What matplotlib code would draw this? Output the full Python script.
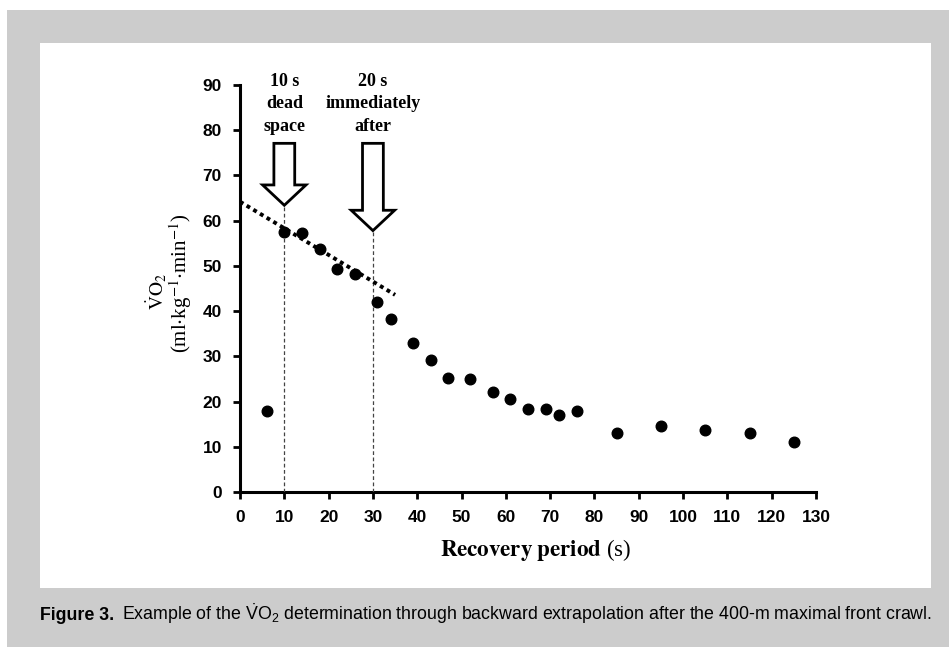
import matplotlib
matplotlib.use("Agg")
import matplotlib.pyplot as plt
from matplotlib.patches import Rectangle, FancyArrow
from matplotlib import font_manager

# ---------------- data ----------------
recovery_time = [6, 10, 14, 18, 22, 26, 31, 34, 39, 43, 47, 52, 57, 61, 65, 69, 72, 76,
                 85, 95, 105, 115, 125]
vo2 = [17.9, 57.6, 57.2, 53.8, 49.3, 48.3, 42.1, 38.3, 33.0, 29.1, 25.3, 24.9, 22.1,
       20.6, 18.3, 18.3, 17.1, 17.9, 13.1, 14.6, 13.8, 13.1, 11.1]
fit_x = [0, 35]
fit_y = [64.2, 43.6]
marker_times = [10, 30]
marker_tips = [63.4, 57.8]
marker_labels = ["10 s\ndead\nspace", "20 s\nimmediately\nafter"]
x_ticks = list(range(0, 131, 10))
y_ticks = list(range(0, 91, 10))

# ---------------- fonts ----------------
names = {f.name for f in font_manager.fontManager.ttflist}
sans = "Liberation Sans Narrow" if "Liberation Sans Narrow" in names else "Liberation Sans"
plt.rcParams["mathtext.fontset"] = "custom"
plt.rcParams["mathtext.rm"] = sans
plt.rcParams["mathtext.bf"] = sans + ":bold"
plt.rcParams["mathtext.it"] = sans + ":italic"

W, H = 949, 647
fig = plt.figure(figsize=(W / 100, H / 100), dpi=100)
fig.patch.set_facecolor("white")

# background panels
fig.add_artist(Rectangle((7 / W, 0), 1 - 7 / W, (H - 10) / H, transform=fig.transFigure,
                         facecolor="#cccccc", edgecolor="none", zorder=-10))
fig.add_artist(Rectangle((40 / W, 1 - 588 / H), (931 - 40) / W, (588 - 43) / H,
                         transform=fig.transFigure, facecolor="white", edgecolor="none",
                         zorder=-9))

ax = fig.add_axes([240 / W, 1 - 492 / H, 576 / W, 407 / H])
ax.set_facecolor("none")
ax.set_xlim(0, 130)
ax.set_ylim(0, 90)
for s in ["top", "right"]:
    ax.spines[s].set_visible(False)
for s in ["left", "bottom"]:
    ax.spines[s].set_linewidth(2.2)
ax.set_xticks(x_ticks)
ax.set_yticks(y_ticks)
ax.tick_params(direction="out", length=5, width=2, pad=8)
tick_fp = font_manager.FontProperties(family=sans, weight="bold", size=12.5)
ax.set_xticklabels([str(v) for v in x_ticks], fontproperties=tick_fp)
ax.set_yticklabels([str(v) for v in y_ticks], fontproperties=tick_fp)

# data points
ax.scatter(recovery_time, vo2, s=58, color="black", zorder=5, clip_on=False)

# backward extrapolation line
ax.plot(fit_x, fit_y, color="black", lw=2.8, linestyle=(0, (1, 1.0)), clip_on=False, zorder=4)

# marker lines, arrows, labels
for t, tip, lab in zip(marker_times, marker_tips, marker_labels):
    ax.plot([t, t], [0, tip], color="#444444", lw=0.9, linestyle=(0, (3, 2)), zorder=3)
    arr = FancyArrow(t, 77.1, 0, tip - 77.1, width=4.7, head_width=9.8, head_length=4.5,
                     length_includes_head=True, facecolor="white", edgecolor="black",
                     linewidth=2, zorder=6, clip_on=False)
    ax.add_patch(arr)
    ax.text(t, 85.9, lab, ha="center", va="center", fontsize=13, fontweight="bold",
            family="Liberation Serif", linespacing=1.42, clip_on=False)

# axis labels
fig.text(157 / W, 1 - 291 / H, r"$\dot{\mathrm{V}}\mathrm{O}_{2}$", rotation=90, ha="center",
         va="center", fontsize=14, math_fontfamily="stix")
fig.text(181 / W, 1 - 283 / H, r"(ml$\cdot$kg$^{-1}$$\cdot$min$^{-1}$)", rotation=90,
         ha="center", va="center", fontsize=15, family="Liberation Serif",
         math_fontfamily="stix")
fig.text(536 / W, 1 - 550 / H, r"$\mathbf{Recovery\ period}$ (s)", ha="center", va="center",
         fontsize=16.5, family="Liberation Serif", math_fontfamily="stix")

# caption, fitted to the width of the reference caption (x = 40 .. 930 px)
cap_size = 13.5
cap1 = fig.text(40 / W, 1 - 620 / H, "Figure 3.", family=sans, fontweight="bold",
                fontsize=cap_size, va="baseline", ha="left")
cap2 = fig.text(0, 1 - 620 / H,
                r"Example of the $\dot{\mathrm{V}}\mathrm{O}_2$ determination through backward "
                r"extrapolation after the 400-m maximal front crawl.",
                family=sans, fontsize=cap_size, va="baseline", ha="left")
for _ in range(3):
    cap1.set_fontsize(cap_size)
    cap2.set_fontsize(cap_size)
    fig.canvas.draw()
    b1 = cap1.get_window_extent()
    cap2.set_x((b1.x1 + cap_size * 0.6) / W)
    fig.canvas.draw()
    b2 = cap2.get_window_extent()
    cap_size *= (930 - 40) / (b2.x1 - b1.x0)

fig.savefig("out.png", dpi=100, facecolor="white")
